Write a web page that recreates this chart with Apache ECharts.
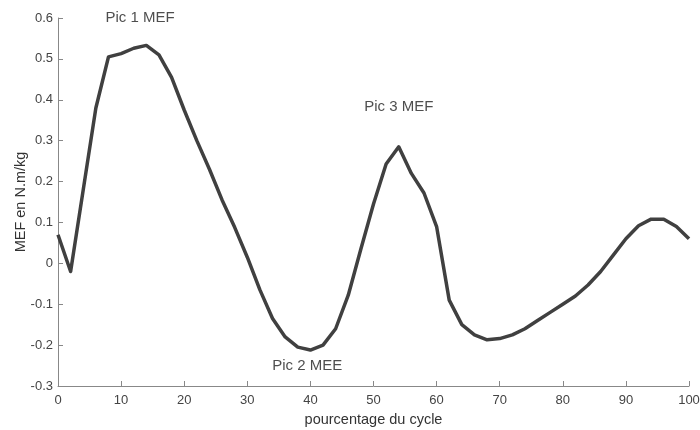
<!DOCTYPE html>
<html>
<head>
<meta charset="utf-8">
<script src="https://cdn.jsdelivr.net/npm/echarts@6/dist/echarts.min.js"></script>
<style>html,body{margin:0;padding:0;background:#fff;}#c{width:700px;height:430px;}</style>
</head>
<body>
<div id="c"></div>
<script>
const xValues = [0,2,4,6,8,10,12,14,16,18,20,22,24,26,28,30,32,34,36,38,40,42,44,46,48,50,52,54,56,58,60,62,64,66,68,70,72,74,76,78,80,82,84,86,88,90,92,94,96,98,100];
const mefValues = [0.07,-0.02,0.18,0.38,0.505,0.513,0.526,0.533,0.51,0.455,0.375,0.30,0.23,0.155,0.088,0.015,-0.065,-0.135,-0.18,-0.205,-0.212,-0.20,-0.16,-0.078,0.035,0.145,0.243,0.285,0.22,0.172,0.09,-0.09,-0.15,-0.175,-0.187,-0.184,-0.175,-0.16,-0.14,-0.12,-0.10,-0.08,-0.053,-0.02,0.02,0.06,0.092,0.108,0.108,0.09,0.06];
const annotationText = ["Pic 1 MEF","Pic 2 MEE","Pic 3 MEF"];
const annotationX = [13, 39.5, 54];
const annotationY = [0.6, -0.25, 0.383];
const xTicks = [0,10,20,30,40,50,60,70,80,90,100];
const yTicks = [-0.3,-0.2,-0.1,0,0.1,0.2,0.3,0.4,0.5,0.6];

const font = 'Liberation Sans, Arial, Helvetica, sans-serif';
const chart = echarts.init(document.getElementById('c'));
chart.setOption({
  animation: false,
  backgroundColor: '#fff',
  grid: {left: 58, right: 11, top: 18, bottom: 44, containLabel: false, outerBoundsMode: 'none'},
  xAxis: {
    type: 'value', min: 0, max: 100, interval: 10,
    name: 'pourcentage du cycle', nameLocation: 'middle', nameGap: 26, nameMoveOverlap: false,
    nameTextStyle: {color: '#333', fontSize: 14.5, fontFamily: font},
    axisLine: {show: true, onZero: false, lineStyle: {color: '#888', width: 1}},
    axisTick: {show: true, inside: true, length: 5, lineStyle: {color: '#888'}},
    axisLabel: {color: '#444', fontSize: 13, fontFamily: font, margin: 8,
      formatter: v => xTicks.includes(v) ? String(v) : ''},
    splitLine: {show: false}
  },
  yAxis: {
    type: 'value', min: -0.3, max: 0.6, interval: 0.1,
    name: 'MEF en N.m/kg', nameLocation: 'middle', nameGap: 30, nameMoveOverlap: false,
    nameTextStyle: {color: '#333', fontSize: 14.5, fontFamily: font},
    axisLine: {show: true, lineStyle: {color: '#888', width: 1}},
    axisTick: {show: true, inside: true, length: 5, lineStyle: {color: '#888'}},
    axisLabel: {color: '#444', fontSize: 13, fontFamily: font, margin: 5,
      formatter: v => {
        const r = Math.round(v * 10) / 10;
        return yTicks.some(t => Math.abs(t - r) < 1e-9) ? String(r) : '';
      }},
    splitLine: {show: false}
  },
  series: [{
    type: 'line',
    data: xValues.map((x, i) => [x, mefValues[i]]),
    showSymbol: false,
    lineStyle: {color: '#404040', width: 3.5, join: 'round'},
    z: 3
  }, {
    type: 'scatter',
    data: annotationX.map((x, i) => ({value: [x, annotationY[i]], name: annotationText[i]})),
    symbolSize: 0,
    silent: true,
    label: {show: true, position: 'inside', formatter: p => p.name,
      color: '#222', fontSize: 15, fontFamily: font},
    z: 4
  }]
});
</script>
</body>
</html>
